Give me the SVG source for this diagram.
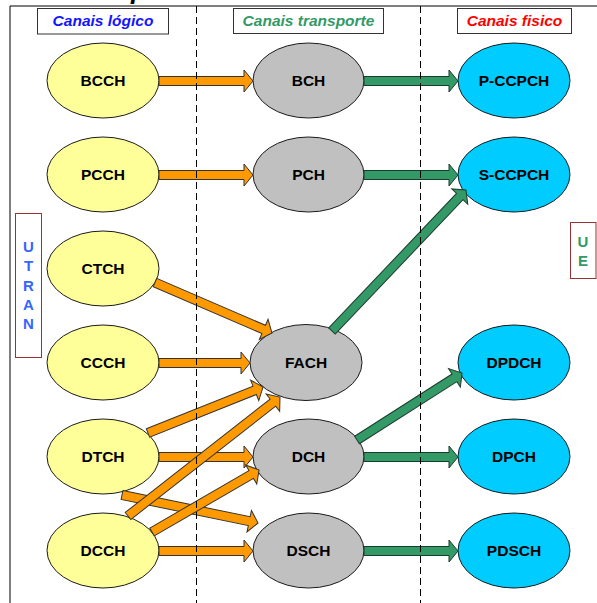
<svg xmlns="http://www.w3.org/2000/svg" width="597" height="603" viewBox="0 0 597 603">
  <style>
    .frame { fill: none; stroke: #000; stroke-width: 1; }
    .divider { stroke: #000; stroke-width: 1; stroke-dasharray: 7 4; }
    .hdr rect { fill: #fff; stroke: #333; stroke-width: 1; }
    .hdr text { font-family: "Liberation Sans", Arial, sans-serif; font-size: 15.5px; font-weight: bold; font-style: italic; text-anchor: middle; }
    .side rect { fill: #fff; stroke: #993333; stroke-width: 1; }
    .side text { font-family: "Liberation Sans", Arial, sans-serif; font-size: 15px; font-weight: bold; text-anchor: middle; }
    .node ellipse { stroke: #1a1a1a; stroke-width: 1; }
    .logical ellipse { fill: #FFFF99; }
    .transport ellipse { fill: #C0C0C0; }
    .physical ellipse { fill: #00CCFF; }
    .node text { font-family: "Liberation Sans", Arial, sans-serif; font-size: 15.5px; font-weight: bold; text-anchor: middle; fill: #000; }
    .orange path { fill: #FF9900; stroke: #333; stroke-width: 1; stroke-linejoin: miter; }
    .green path { fill: #339966; stroke: #1d3b2b; stroke-width: 1; stroke-linejoin: miter; }
  </style>

  <!-- title fragment at the very top -->
  <text x="131" y="-1" font-family="Liberation Sans, Arial, sans-serif" font-size="26" font-weight="bold" font-style="italic" fill="#000">p</text>

  <!-- page frame -->
  <path class="frame" d="M10,603 V6 H597"/>

  <!-- column headers -->
  <g id="hdr-logico" class="hdr">
    <rect x="37.5" y="8.5" width="131" height="25.5"/>
    <text x="103" y="26" fill="#1414FF">Canais lógico</text>
  </g>
  <g id="hdr-transporte" class="hdr">
    <rect x="233.5" y="8.5" width="150" height="25"/>
    <text x="308.5" y="26" fill="#339966">Canais transporte</text>
  </g>
  <g id="hdr-fisico" class="hdr">
    <rect x="457.5" y="8.5" width="114" height="25"/>
    <text x="514.5" y="26" fill="#FF0000">Canais fisico</text>
  </g>

  <!-- side labels -->
  <g id="utran" class="side">
    <rect x="15.5" y="213.5" width="26" height="144"/>
    <text x="28.5" y="252" fill="#3366FF">U</text>
    <text x="28.5" y="271.3" fill="#3366FF">T</text>
    <text x="28.5" y="290.5" fill="#3366FF">R</text>
    <text x="28.5" y="309.8" fill="#3366FF">A</text>
    <text x="28.5" y="329" fill="#3366FF">N</text>
  </g>
  <g id="ue" class="side">
    <rect x="570.5" y="222.5" width="25.5" height="56"/>
    <text x="583" y="246.7" fill="#339966">U</text>
    <text x="583" y="265.7" fill="#339966">E</text>
  </g>

  <!-- logical channels -->
  <g id="BCCH" class="node logical"><ellipse cx="103" cy="80.5" rx="56" ry="37.5"/><text x="103" y="86">BCCH</text></g>
  <g id="PCCH" class="node logical"><ellipse cx="103" cy="174.5" rx="56" ry="37.5"/><text x="103" y="180">PCCH</text></g>
  <g id="CTCH" class="node logical"><ellipse cx="103" cy="268.5" rx="56" ry="37.5"/><text x="103" y="274">CTCH</text></g>
  <g id="CCCH" class="node logical"><ellipse cx="103" cy="362.5" rx="56" ry="37.5"/><text x="103" y="368">CCCH</text></g>
  <g id="DTCH" class="node logical"><ellipse cx="103" cy="456.5" rx="56" ry="37.5"/><text x="103" y="462">DTCH</text></g>
  <g id="DCCH" class="node logical"><ellipse cx="103" cy="550.5" rx="56" ry="37.5"/><text x="103" y="556">DCCH</text></g>

  <!-- transport channels -->
  <g id="BCH" class="node transport"><ellipse cx="308.5" cy="80.5" rx="55.5" ry="37.5"/><text x="308.5" y="86">BCH</text></g>
  <g id="PCH" class="node transport"><ellipse cx="308.5" cy="174.5" rx="55.5" ry="37.5"/><text x="308.5" y="180">PCH</text></g>
  <g id="FACH" class="node transport"><ellipse cx="306" cy="362.5" rx="56" ry="38"/><text x="306" y="368">FACH</text></g>
  <g id="DCH" class="node transport"><ellipse cx="308.5" cy="456.5" rx="55.5" ry="37.5"/><text x="308.5" y="462">DCH</text></g>
  <g id="DSCH" class="node transport"><ellipse cx="308.5" cy="550.5" rx="55.5" ry="37.5"/><text x="308.5" y="556">DSCH</text></g>

  <!-- physical channels -->
  <g id="P-CCPCH" class="node physical"><ellipse cx="514" cy="80.5" rx="56" ry="37.5"/><text x="514" y="86">P-CCPCH</text></g>
  <g id="S-CCPCH" class="node physical"><ellipse cx="514" cy="174.5" rx="56" ry="37.5"/><text x="514" y="180">S-CCPCH</text></g>
  <g id="DPDCH" class="node physical"><ellipse cx="514" cy="362.5" rx="56" ry="37.5"/><text x="514" y="368">DPDCH</text></g>
  <g id="DPCH" class="node physical"><ellipse cx="514" cy="456.5" rx="56" ry="37.5"/><text x="514" y="462">DPCH</text></g>
  <g id="PDSCH" class="node physical"><ellipse cx="514" cy="550.5" rx="56" ry="37.5"/><text x="514" y="556">PDSCH</text></g>

  <!-- connectors: block arrows drawn along +x, then placed and rotated -->
  <g id="connectors">
    <g class="orange">
      <path transform="translate(159,81)" d="M0,-4.5H85V-11L94,0L85,11V4.5H0Z"/>
      <path transform="translate(159,175)" d="M0,-4.5H85V-11L94,0L85,11V4.5H0Z"/>
      <path transform="translate(155,282.5) rotate(23.35)" d="M0,-4.5H118.4V-11L127.4,0L118.4,11V4.5H0Z"/>
      <path transform="translate(159,363)" d="M0,-4.5H82V-11L91,0L82,11V4.5H0Z"/>
      <path transform="translate(148,433) rotate(-21.8)" d="M0,-4.5H114.9V-11L123.9,0L114.9,11V4.5H0Z"/>
      <path transform="translate(159,457)" d="M0,-4.5H85V-11L94,0L85,11V4.5H0Z"/>
      <path transform="translate(122,495) rotate(11.63)" d="M0,-4.5H129.9V-11L138.9,0L129.9,11V4.5H0Z"/>
      <path transform="translate(128,516) rotate(-38.05)" d="M0,-4.5H184V-11L193,0L184,11V4.5H0Z"/>
      <path transform="translate(152,532) rotate(-30.09)" d="M0,-4.5H114.7V-11L123.7,0L114.7,11V4.5H0Z"/>
      <path transform="translate(159,551)" d="M0,-4.5H85V-11L94,0L85,11V4.5H0Z"/>
    </g>
    <g class="green">
      <path transform="translate(364,81)" d="M0,-4.5H85V-11L94,0L85,11V4.5H0Z"/>
      <path transform="translate(364,175)" d="M0,-4.5H85V-11L94,0L85,11V4.5H0Z"/>
      <path transform="translate(332,331) rotate(-46.46)" d="M0,-4.5H185.5V-11L194.5,0L185.5,11V4.5H0Z"/>
      <path transform="translate(357,440) rotate(-32.54)" d="M0,-4.5H115.6V-11L124.6,0L115.6,11V4.5H0Z"/>
      <path transform="translate(364,457)" d="M0,-4.5H85V-11L94,0L85,11V4.5H0Z"/>
      <path transform="translate(364,551)" d="M0,-4.5H85V-11L94,0L85,11V4.5H0Z"/>
    </g>
  </g>

  <!-- column dividers -->
  <line class="divider" x1="196.5" y1="6" x2="196.5" y2="603"/>
  <line class="divider" x1="420.5" y1="6" x2="420.5" y2="603"/>
</svg>
